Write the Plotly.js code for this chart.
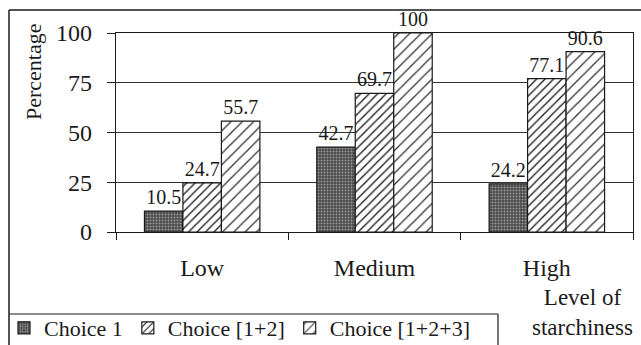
<!DOCTYPE html>
<html>
<head>
<meta charset="utf-8">
<script src="https://cdn.plot.ly/plotly-3.0.1.min.js"></script>
<style>
  html, body { margin: 0; padding: 0; background: #fff; }
  #chart { width: 641px; height: 345px; }
</style>
</head>
<body>
<div id="chart"></div>
<script>
// ---- data ----
var categories = ['Low', 'Medium', 'High'];
var seriesNames = ['Choice 1', 'Choice [1+2]', 'Choice [1+2+3]'];
var choice1 = [10.5, 42.7, 24.2];
var choice12 = [24.7, 69.7, 77.1];
var choice123 = [55.7, 100, 90.6];
var yTicks = [0, 25, 50, 75, 100];

// ---- layout helpers (pixel -> paper) ----
var L = 116, R = 633, T = 33, B = 232;
function px(x) { return (x - L) / (R - L); }
function py(y) { return (B - y) / (B - T); }

var serif = '"Liberation Serif", "Times New Roman", serif';
var ink = '#1a1a1a';

function bar(name, vals, pattern, color) {
  return {
    type: 'bar',
    name: name,
    x: categories,
    y: vals,
    text: vals.map(function (v) { return String(v); }),
    textposition: 'outside',
    cliponaxis: false,
    textfont: { family: serif, size: 20, color: ink },
    marker: {
      color: color,
      line: { color: ink, width: 1.2 },
      pattern: pattern
    },
    hoverinfo: 'none'
  };
}

var data = [
  bar(seriesNames[0], choice1, { shape: '.', fgcolor: '#9a9a9a', bgcolor: '#4a4a4a', size: 3, solidity: 0.35 }, '#4a4a4a'),
  bar(seriesNames[1], choice12, { shape: '/', fgcolor: ink, bgcolor: '#ffffff', size: 6, solidity: 0.22 }, '#ffffff'),
  bar(seriesNames[2], choice123, { shape: '/', fgcolor: '#333', bgcolor: '#ffffff', size: 8, solidity: 0.16 }, '#ffffff')
];

var layout = {
  width: 641,
  height: 345,
  margin: { l: L, r: 641 - R, t: T, b: 345 - B, pad: 0, autoexpand: false },
  paper_bgcolor: '#ffffff',
  plot_bgcolor: '#ffffff',
  barmode: 'group',
  bargap: 0.33,
  bargroupgap: 0,
  showlegend: true,
  font: { family: serif, color: ink },
  xaxis: {
    type: 'category',
    tickson: 'boundaries',
    ticks: 'outside',
    ticklen: 7,
    tickcolor: ink,
    showline: true,
    linecolor: ink,
    linewidth: 1.2,
    mirror: true,
    showgrid: false,
    tickfont: { family: serif, size: 24, color: ink },
    ticklabelstandoff: 14,
    automargin: false,
    fixedrange: true
  },
  yaxis: {
    range: [0, 100],
    tickvals: yTicks,
    ticktext: yTicks.map(String),
    ticks: 'outside',
    ticklen: 8,
    tickcolor: ink,
    showline: true,
    linecolor: ink,
    linewidth: 1.2,
    mirror: true,
    showgrid: true,
    gridcolor: '#333',
    gridwidth: 1,
    zeroline: false,
    tickfont: { family: serif, size: 24, color: ink },
    ticklabelstandoff: 10,
    automargin: false,
    fixedrange: true
  },
  legend: {
    orientation: 'h',
    x: px(4),
    y: py(307),
    xanchor: 'left',
    yanchor: 'top',
    font: { family: serif, size: 22, color: ink },
    bgcolor: 'rgba(0,0,0,0)',
    borderwidth: 0,
    traceorder: 'normal',
    itemwidth: 30
  },
  shapes: [
    // outer frame
    { type: 'line', xref: 'paper', yref: 'paper', x0: px(9), x1: px(9), y0: py(10), y1: py(350), line: { color: ink, width: 1.5 } },
    { type: 'line', xref: 'paper', yref: 'paper', x0: px(9), x1: px(660), y0: py(10), y1: py(10), line: { color: ink, width: 1.5 } },
    // legend box
    { type: 'line', xref: 'paper', yref: 'paper', x0: px(9), x1: px(498), y0: py(314), y1: py(314), line: { color: ink, width: 1.2 } },
    { type: 'line', xref: 'paper', yref: 'paper', x0: px(498), x1: px(498), y0: py(314), y1: py(350), line: { color: ink, width: 1.2 } }
  ],
  annotations: [
    {
      text: 'Percentage', textangle: -90, showarrow: false,
      xref: 'paper', yref: 'paper', x: px(33), y: py(72), xanchor: 'center', yanchor: 'middle',
      font: { family: serif, size: 22, color: ink }
    },
    {
      text: 'Level of<br>starchiness', showarrow: false, align: 'center',
      xref: 'paper', yref: 'paper', x: px(582), y: py(312), xanchor: 'center', yanchor: 'middle',
      font: { family: serif, size: 23, color: ink }
    }
  ]
};

Plotly.newPlot('chart', data, layout, { staticPlot: true, displayModeBar: false });
</script>
</body>
</html>
